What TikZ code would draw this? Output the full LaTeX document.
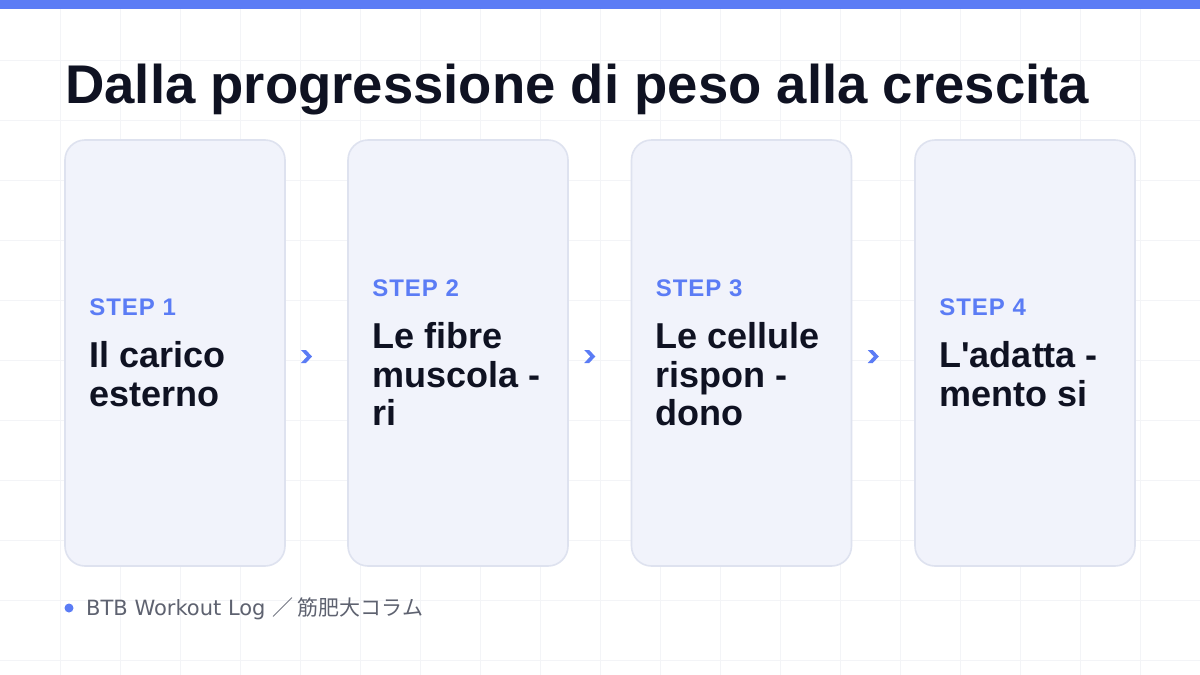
\documentclass[tikz,border=0pt]{standalone}
\usepackage{fontspec}
\setmainfont{Liberation Sans}
\newfontfamily\cjkfont{Noto Sans CJK JP}
\newfontfamily\footfont{DejaVu Sans}
\usepackage{tikz}
\usetikzlibrary{%
	calc,%
	positioning%
}

\definecolor{accent}{HTML}{5B7CF5}
\definecolor{ink}{HTML}{0F1222}
\definecolor{cardfill}{HTML}{F1F3FB}
\definecolor{cardline}{HTML}{DEE2EF}
\definecolor{gridline}{HTML}{F3F4F7}
\definecolor{footgray}{HTML}{5E6270}

\tikzset{
	card/.style={draw=cardline, line width=1.6pt, fill=cardfill, rounded corners=20pt,
		minimum width=220pt, minimum height=426pt, inner sep=0pt},
	cardtext/.style={anchor=west, align=left, inner sep=0pt, text=ink,
		font=\bfseries\fontsize{36}{38.5}\selectfont}
}
\newcommand{\steplbl}[1]{{\color{accent}\addfontfeature{LetterSpace=4}\fontsize{24}{24}\selectfont #1}}

\begin{document}
\begin{tikzpicture}[x=1pt, y=-1pt]
			\useasboundingbox (0,0) rectangle (1200,675);
			\fill[white] (0,0) rectangle (1200,675);
			
			% Draw the faint background grid
			\foreach \x in {60,120,...,1140} {
				\draw[gridline, line width=1pt] (\x,0) -- (\x,675);
			}
			\foreach \y in {60,120,...,660} {
				\draw[gridline, line width=1pt] (0,\y) -- (1200,\y);
			}
			
			% Draw the top bar
			\fill[accent] (0,0) rectangle (1200,9);
			
			% Title
			\node[anchor=base west, inner sep=0pt, text=ink,
				font=\bfseries\fontsize{54.5}{60}\selectfont] (title) at (65,103)
				{Dalla progressione di peso alla crescita};
			
			% Draw the four cards
			\node[card] (c1) at (175,353) {};
			\node[card] (c2) at (458,353) {};
			\node[card] (c3) at (741.5,353) {};
			\node[card] (c4) at (1025,353) {};
			
			% Card texts
			\node[cardtext] (t1) at ($(c1.west)+(25,0)$) {\steplbl{STEP 1}\\[13.5pt]Il carico\\esterno};
			\node[cardtext] (t2) at ($(c2.west)+(25,0)$) {\steplbl{STEP 2}\\[13.5pt]Le fibre\\muscola -\\ri};
			\node[cardtext] (t3) at ($(c3.west)+(25,0)$) {\steplbl{STEP 3}\\[13.5pt]Le cellule\\rispon -\\dono};
			\node[cardtext] (t4) at ($(c4.west)+(25,0)$) {\steplbl{STEP 4}\\[13.5pt]L\textquotesingle adatta -\\mento si};
			
			% Draw the chevrons between cards
			\foreach \a/\b in {1/2,2/3,3/4} {
				\coordinate (a\a) at ($(c\a.east)!0.5!(c\b.west)+(-10,3.5)$);
				\fill[accent] ($(a\a)+(-5.5,-6.5)$) -- ++(5,0) -- ++(6,6.5) -- ++(-6,6.5)
					-- ++(-5,0) -- ++(6,-6.5) -- cycle;
			}
			
			% Footer
			\fill[accent] (69,608) circle (4.5) coordinate (dot);
			\node[anchor=base west, inner sep=0pt, text=footgray,
				font=\footfont\fontsize{21}{24}\selectfont] (foot) at (86,615)
				{BTB Workout Log {\cjkfont ／ 筋肥大コラム}};
		\end{tikzpicture}
\end{document}
